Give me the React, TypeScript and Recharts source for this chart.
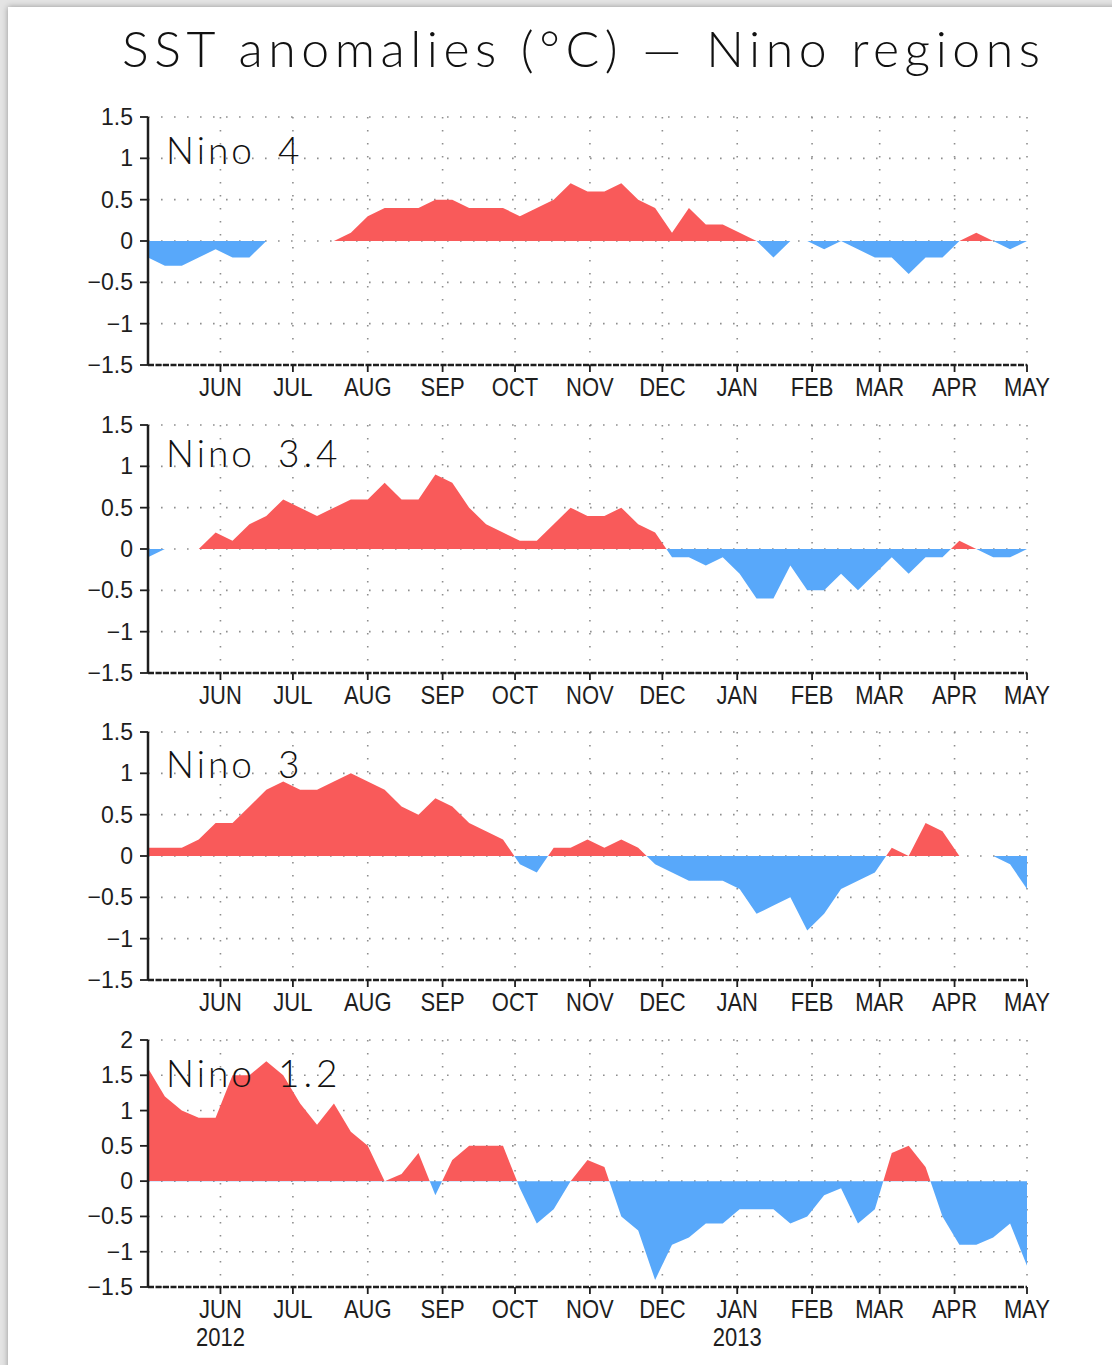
import React from 'react';
import { AreaChart, Area, XAxis, YAxis, CartesianGrid } from 'recharts';

// weekly OISST anomalies, weeks centred on Wednesdays, 2 May 2012 .. 1 May 2013
const WEEK_COUNT = 53;

const nino4 = [
  -0.2, -0.3, -0.3, -0.2, -0.1, -0.2, -0.2, 0, 0, 0, 0, 0, 0.1, 0.3, 0.4, 0.4, 0.4, 0.5, 0.5, 0.4,
  0.4, 0.4, 0.3, 0.4, 0.5, 0.7, 0.6, 0.6, 0.7, 0.5, 0.4, 0.1, 0.4, 0.2, 0.2, 0.1, 0, -0.2, 0, 0,
  -0.1, 0, -0.1, -0.2, -0.2, -0.4, -0.2, -0.2, 0, 0.1, 0, -0.1, 0,
];

const nino34 = [
  -0.1, 0, 0, 0, 0.2, 0.1, 0.3, 0.4, 0.6, 0.5, 0.4, 0.5, 0.6, 0.6, 0.8, 0.6, 0.6, 0.9, 0.8, 0.5,
  0.3, 0.2, 0.1, 0.1, 0.3, 0.5, 0.4, 0.4, 0.5, 0.3, 0.2, -0.1, -0.1, -0.2, -0.1, -0.3, -0.6, -0.6, -0.2, -0.5,
  -0.5, -0.3, -0.5, -0.3, -0.1, -0.3, -0.1, -0.1, 0.1, 0, -0.1, -0.1, 0,
];

const nino3 = [
  0.1, 0.1, 0.1, 0.2, 0.4, 0.4, 0.6, 0.8, 0.9, 0.8, 0.8, 0.9, 1.0, 0.9, 0.8, 0.6, 0.5, 0.7, 0.6, 0.4,
  0.3, 0.2, -0.1, -0.2, 0.1, 0.1, 0.2, 0.1, 0.2, 0.1, -0.1, -0.2, -0.3, -0.3, -0.3, -0.4, -0.7, -0.6, -0.5, -0.9,
  -0.7, -0.4, -0.3, -0.2, 0.1, 0, 0.4, 0.3, 0, 0, 0, -0.1, -0.4,
];

const nino12 = [
  1.6, 1.2, 1.0, 0.9, 0.9, 1.5, 1.5, 1.7, 1.5, 1.1, 0.8, 1.1, 0.7, 0.5, 0, 0.1, 0.4, -0.2, 0.3, 0.5,
  0.5, 0.5, -0.1, -0.6, -0.4, 0, 0.3, 0.2, -0.5, -0.7, -1.4, -0.9, -0.8, -0.6, -0.6, -0.4, -0.4, -0.4, -0.6, -0.5,
  -0.2, -0.1, -0.6, -0.4, 0.4, 0.5, 0.2, -0.5, -0.9, -0.9, -0.8, -0.6, -1.2,
];

// month ticks as days since 2 May 2012
const monthDays = [30, 60, 91, 122, 152, 183, 213, 244, 275, 303, 334, 364];
const monthLabels = ['JUN', 'JUL', 'AUG', 'SEP', 'OCT', 'NOV', 'DEC', 'JAN', 'FEB', 'MAR', 'APR', 'MAY'];
const yearLabels: Record<number, string> = { 30: '2012', 244: '2013' };

const ticks15 = [-1.5, -1, -0.5, 0, 0.5, 1, 1.5];
const ticks20 = [-1.5, -1, -0.5, 0, 0.5, 1, 1.5, 2];

const RED = '#f95a5a';
const BLUE = '#58a8fa';
const INK = '#1e1e1e';
const TICK_FONT = '"Liberation Sans", Arial, sans-serif';
const LABEL_FONT = "Lato, 'Open Sans', sans-serif";
const TOP_PAD = 30;

// plotTop is where each panel's frame starts on the page
const panels = [
  { id: 'n4', name: 'Nino', num: '4', values: nino4, domain: [-1.5, 1.5], ticks: ticks15, plotTop: 117, labelY: 164 },
  { id: 'n34', name: 'Nino', num: '3.4', values: nino34, domain: [-1.5, 1.5], ticks: ticks15, plotTop: 425, labelY: 467 },
  { id: 'n3', name: 'Nino', num: '3', values: nino3, domain: [-1.5, 1.5], ticks: ticks15, plotTop: 732, labelY: 778 },
  { id: 'n12', name: 'Nino', num: '1.2', values: nino12, domain: [-1.5, 2], ticks: ticks20, plotTop: 1040, labelY: 1087 },
];

const fmtY = (v: number) => (v < 0 ? '\u2212' + Math.abs(v) : String(v));

const MonthTick = (props: any) => {
  const { x, y, payload, showYear } = props;
  const i = monthDays.indexOf(payload.value);
  const year = yearLabels[payload.value];
  return (
    <g transform={`translate(${x},${y})`}>
      <text transform="scale(0.88,1)" y={22} textAnchor="middle" fontSize={25} fontFamily={TICK_FONT} fill={INK}>
        {monthLabels[i]}
      </text>
      {showYear && year ? (
        <text transform="scale(0.88,1)" y={50} textAnchor="middle" fontSize={25} fontFamily={TICK_FONT} fill={INK}>
          {year}
        </text>
      ) : null}
    </g>
  );
};

const ValueTick = (props: any) => {
  const { x, y, payload } = props;
  return (
    <text x={x} y={y + 8} textAnchor="end" fontSize={23} fontFamily={TICK_FONT} fill={INK}>
      {fmtY(payload.value)}
    </text>
  );
};

const Panel = ({ p, last }: { p: (typeof panels)[number]; last: boolean }) => {
  const data = p.values.slice(0, WEEK_COUNT).map((v, i) => ({ day: i * 7, v }));
  const max = Math.max(0, ...p.values);
  const min = Math.min(0, ...p.values);
  const off = max - min > 0 ? max / (max - min) : 0;
  const plotH = last ? 247 : 248;
  const axisH = last ? 70 : 50;
  return (
    <div style={{ position: 'absolute', left: 0, top: p.plotTop - TOP_PAD }}>
      <AreaChart
        width={1112}
        height={TOP_PAD + plotH + axisH}
        data={data}
        margin={{ top: TOP_PAD, right: 85, bottom: 0, left: 28 }}
      >
        <defs>
          <linearGradient id={`split-${p.id}`} x1="0" y1="0" x2="0" y2="1">
            <stop offset={off} stopColor={RED} />
            <stop offset={off} stopColor={BLUE} />
          </linearGradient>
        </defs>
        <CartesianGrid stroke="#8e8e8e" strokeWidth={1.6} strokeDasharray="1.6 11.4" />
        <XAxis
          dataKey="day"
          type="number"
          domain={[0, 364]}
          ticks={monthDays}
          allowDataOverflow
          height={axisH}
          tickSize={7}
          tickMargin={2}
          interval={0}
          axisLine={{ stroke: INK, strokeWidth: 2.5, strokeDasharray: '6 1.5' }}
          tickLine={{ stroke: INK, strokeWidth: 1.8 }}
          tick={<MonthTick showYear={last} />}
        />
        <XAxis
          xAxisId="top"
          orientation="top"
          dataKey="day"
          type="number"
          domain={[0, 364]}
          height={0}
          tick={false}
          tickLine={false}
          axisLine={{ stroke: INK, strokeWidth: 2.5, strokeDasharray: '6 1.5' }}
        />
        <YAxis
          type="number"
          domain={p.domain}
          ticks={p.ticks}
          interval={0}
          width={120}
          tickSize={8}
          tickMargin={7}
          axisLine={{ stroke: INK, strokeWidth: 2.5 }}
          tickLine={{ stroke: INK, strokeWidth: 1.8 }}
          tick={<ValueTick />}
        />
        <YAxis
          yAxisId="right"
          orientation="right"
          type="number"
          domain={p.domain}
          width={0}
          tick={false}
          tickLine={false}
          axisLine={{ stroke: INK, strokeWidth: 2.5 }}
        />
        <Area
          type="linear"
          dataKey="v"
          baseValue={0}
          stroke="none"
          fill={`url(#split-${p.id})`}
          fillOpacity={1}
          isAnimationActive={false}
          dot={false}
          activeDot={false}
        />
      </AreaChart>
    </div>
  );
};

export default function App() {
  return (
    <div
      style={{
        position: 'absolute',
        left: 0,
        top: 0,
        width: 1112,
        height: 1365,
        overflow: 'hidden',
        background: '#e4e4e4',
      }}
    >
      <div
        style={{
          position: 'absolute',
          left: 8,
          top: 7,
          width: 1112,
          height: 1365,
          background: '#ffffff',
          boxShadow: '0 0 6px rgba(0,0,0,0.35)',
        }}
      />
      {panels.map((p, i) => (
        <Panel key={p.id} p={p} last={i === panels.length - 1} />
      ))}
      <svg width={1112} height={1365} style={{ position: 'absolute', left: 0, top: 0, pointerEvents: 'none' }}>
        <text
          x={122}
          y={67}
          fontSize={50}
          fontFamily={LABEL_FONT}
          fontWeight={300}
          fill="#111"
          textLength={918}
          lengthAdjust="spacing"
        >
          SST anomalies (°C) — Nino regions
        </text>
        {panels.map((p) => (
          <g key={p.id} fontFamily={LABEL_FONT} fontWeight={300} fontSize={37} fill="#111">
            <text x={166} y={p.labelY} textLength={86} lengthAdjust="spacing">
              {p.name}
            </text>
            <text x={278} y={p.labelY} letterSpacing={4}>
              {p.num}
            </text>
          </g>
        ))}
      </svg>
    </div>
  );
}
